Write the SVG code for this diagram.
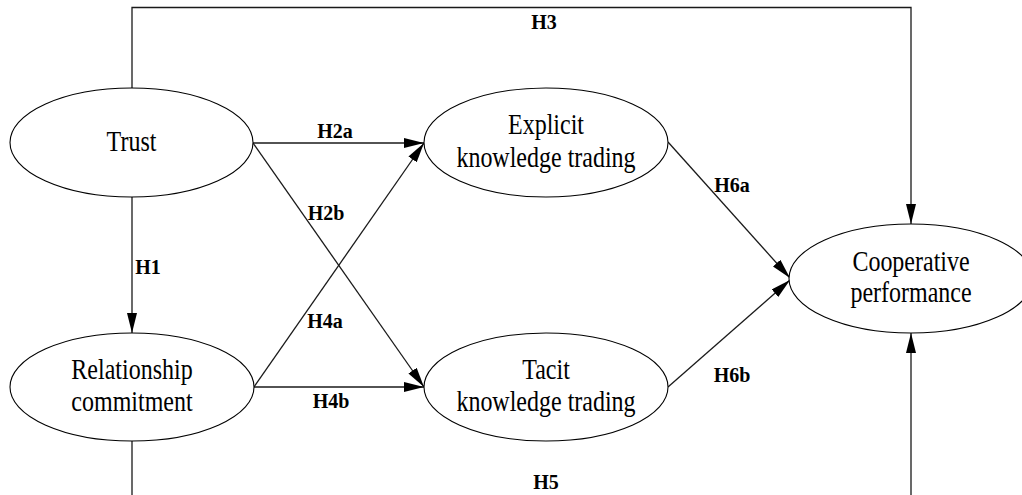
<svg xmlns="http://www.w3.org/2000/svg" width="1022" height="495" viewBox="0 0 1022 495">
<style>
.node ellipse{fill:#fff;stroke:#000;stroke-width:1.1}
.nt{font-family:"Liberation Serif","Times New Roman",serif;font-size:24px;text-anchor:middle;fill:#000}
.lb{font-family:"Liberation Serif","Times New Roman",serif;font-size:20px;font-weight:bold;text-anchor:middle;fill:#000}
.edges path{fill:none;stroke:#1a1a1a;stroke-width:1.3}
</style>
<defs>
<marker id="ah" markerUnits="userSpaceOnUse" markerWidth="21" markerHeight="11" refX="20" refY="5" orient="auto">
<path d="M0,0 L20,5 L0,10 z" fill="#000"/>
</marker>
</defs>
<rect width="1022" height="495" fill="#fff"/>
<g class="edges">
<path d="M132,88 V7.5 H911 V224" marker-end="url(#ah)"/>
<path d="M132,441 V498 H911 V333" marker-end="url(#ah)"/>
<path d="M132,197 V333" marker-end="url(#ah)"/>
<path d="M253,143 H424" marker-end="url(#ah)"/>
<path d="M253,143 L424,387" marker-end="url(#ah)"/>
<path d="M254,387 L424,143" marker-end="url(#ah)"/>
<path d="M254,387 H424" marker-end="url(#ah)"/>
<path d="M668,142 L790,278" marker-end="url(#ah)"/>
<path d="M668,387 L790,280" marker-end="url(#ah)"/>
</g>
<g id="trust" class="node">
<ellipse cx="131.5" cy="142.5" rx="121.5" ry="54.5"/>
<text class="nt" transform="translate(131.5 142.5) scale(1 1.2)" y="6.7">Trust</text>
</g>
<g id="relationship" class="node">
<ellipse cx="132" cy="387" rx="122" ry="54"/>
<text class="nt" transform="translate(132 387) scale(1 1.2)"><tspan x="0" y="-6.7">Relationship</tspan><tspan x="0" y="20">commitment</tspan></text>
</g>
<g id="explicit" class="node">
<ellipse cx="546" cy="142.5" rx="122" ry="54.5"/>
<text class="nt" transform="translate(546 142.5) scale(1 1.2)"><tspan x="0" y="-6.7">Explicit</tspan><tspan x="0" y="20.4">knowledge trading</tspan></text>
</g>
<g id="tacit" class="node">
<ellipse cx="546" cy="387" rx="122" ry="54"/>
<text class="nt" transform="translate(546 387) scale(1 1.2)"><tspan x="0" y="-6.7">Tacit</tspan><tspan x="0" y="20">knowledge trading</tspan></text>
</g>
<g id="cooperative" class="node">
<ellipse cx="911" cy="278.5" rx="122" ry="54.5"/>
<text class="nt" transform="translate(911 278.5) scale(1 1.2)"><tspan x="0" y="-6.5">Cooperative</tspan><tspan x="0" y="19.3">performance</tspan></text>
</g>
<g id="labels">
<text class="lb" transform="translate(544 29) scale(1 1.1)">H3</text>
<text class="lb" transform="translate(148 274) scale(1 1.1)">H1</text>
<text class="lb" transform="translate(335 137.5) scale(1 1.1)">H2a</text>
<text class="lb" transform="translate(326 219.5) scale(1 1.1)">H2b</text>
<text class="lb" transform="translate(325 327.5) scale(1 1.1)">H4a</text>
<text class="lb" transform="translate(331 408) scale(1 1.1)">H4b</text>
<text class="lb" transform="translate(732 191.5) scale(1 1.1)">H6a</text>
<text class="lb" transform="translate(732 381.5) scale(1 1.1)">H6b</text>
<text class="lb" transform="translate(546 489) scale(1 1.1)">H5</text>
</g>
</svg>
